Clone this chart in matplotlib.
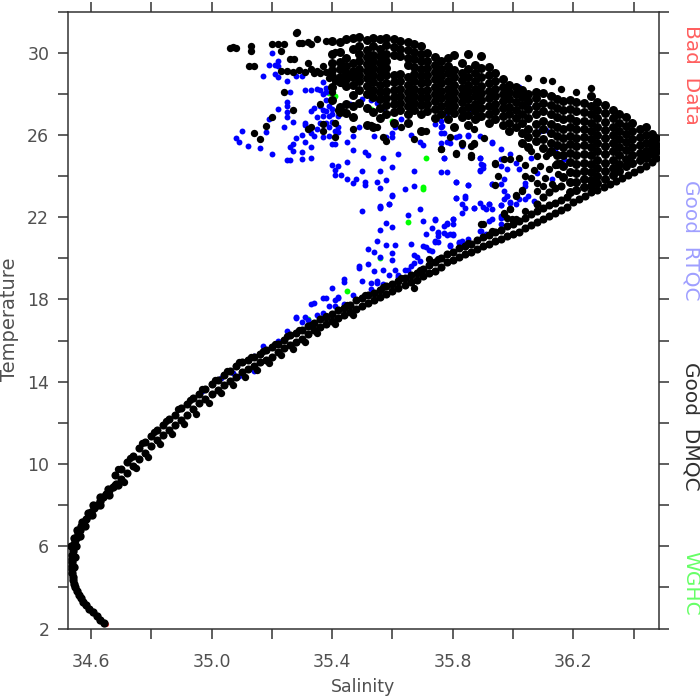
import matplotlib
matplotlib.use("Agg")
import matplotlib.pyplot as plt

x_ticks = [34.6, 34.8, 35.0, 35.2, 35.4, 35.6, 35.8, 36.0, 36.2, 36.4]
x_tick_labels = ["34.6", "", "35.0", "", "35.4", "", "35.8", "", "36.2", ""]
y_ticks = [2, 4, 6, 8, 10, 12, 14, 16, 18, 20, 22, 24, 26, 28, 30, 32]
y_tick_labels = ["2", "", "6", "", "10", "", "14", "", "18", "", "22", "", "26", "", "30", ""]

# deep tail of the TS curve
tail_sal = [34.642, 34.63, 34.62, 34.606, 34.595, 34.585, 34.575, 34.567, 34.56, 34.553, 34.547, 34.544, 34.541,
            34.539, 34.538, 34.537, 34.537, 34.537, 34.537, 34.538, 34.539, 34.541, 34.544, 34.548, 34.553, 34.558,
            34.563, 34.567, 34.575, 34.583, 34.592, 34.601, 34.61, 34.619, 34.63, 34.64, 34.65, 34.66, 34.672, 34.682,
            34.533, 34.543, 34.553, 34.57, 34.59, 34.607, 34.63, 34.655,
            34.545, 34.547, 34.552, 34.563, 34.579, 34.603, 34.63, 34.66, 34.69]
tail_temp = [2.25, 2.42, 2.6, 2.78, 2.95, 3.12, 3.3, 3.48, 3.65, 3.82, 4.0, 4.18, 4.35,
             4.52, 4.7, 4.88, 5.05, 5.22, 5.4, 5.58, 5.75, 5.92, 6.1, 6.28, 6.45, 6.62,
             6.8, 6.98, 7.15, 7.32, 7.5, 7.68, 7.85, 8.02, 8.2, 8.38, 8.55, 8.72, 8.9, 9.05,
             6.0, 6.4, 6.8, 7.2, 7.6, 8.0, 8.4, 8.8,
             5.0, 5.5, 6.0, 6.5, 7.0, 7.5, 8.0, 8.5, 9.0]

# main thermocline band, temperatures per salinity column
band_sal = [34.68, 34.70, 34.72, 34.74, 34.76, 34.78, 34.80, 34.82, 34.84, 34.86, 34.88, 34.90, 34.92, 34.94, 34.96,
            34.98, 35.00, 35.02, 35.04, 35.06, 35.08, 35.10, 35.12, 35.14, 35.16, 35.18, 35.20, 35.22, 35.24, 35.26,
            35.28, 35.30, 35.32, 35.34, 35.36, 35.38, 35.40, 35.42, 35.44, 35.46, 35.48, 35.50, 35.52, 35.54, 35.56,
            35.58, 35.60, 35.62, 35.64, 35.66, 35.68, 35.70, 35.72, 35.74, 35.76, 35.78, 35.80, 35.82, 35.84, 35.86,
            35.88, 35.90, 35.92, 35.94, 35.96, 35.98, 36.00, 36.02, 36.04, 36.06, 36.08, 36.10, 36.12, 36.14, 36.16,
            36.18, 36.20, 36.22, 36.24, 36.26, 36.28, 36.30, 36.32, 36.34, 36.36, 36.38, 36.40, 36.42, 36.44, 36.46,
            36.475]
band_temp = [[9.45, 9.0], [9.75, 9.25], [10.1, 9.55], [10.4, 9.9], [10.8, 10.25], [11.05, 10.55], [11.35, 10.85],
             [11.65, 11.15], [11.9, 11.4], [12.2, 11.65], [12.4, 11.9], [12.7, 12.15], [12.9, 12.4], [13.2, 12.65],
             [13.4, 12.95], [13.65, 13.15], [13.9, 13.4], [14.1, 13.6], [14.35, 13.85], [14.5, 14.05], [14.75, 14.25],
             [14.95, 14.45], [15.05, 14.6], [15.2, 14.75], [15.35, 14.95], [15.55, 15.05], [15.7, 15.2], [15.85, 15.45],
             [16.05, 15.65], [16.25, 15.8], [16.35, 15.95], [16.5, 16.1], [16.7, 16.3], [16.85, 16.5], [17.05, 16.65],
             [17.15, 16.8], [17.3, 16.95], [17.5, 17.1], [17.6, 17.25], [17.75, 17.4], [17.95, 17.55], [18.05, 17.7],
             [18.2, 17.85], [18.3, 17.95], [18.45, 18.1], [18.65, 18.25], [18.75, 18.4], [18.9, 18.55], [19.05, 18.7],
             [19.2, 18.85], [19.3, 18.95], [19.5, 19.15], [19.65, 19.3], [19.8, 19.4], [20.0, 19.6], [20.2, 19.8],
             [20.3, 19.9], [20.5, 20.05], [20.6, 20.2], [20.7, 20.3], [20.9, 20.45], [21.05, 20.6], [21.15, 20.7],
             [21.3, 20.85], [21.4, 20.95], [21.55, 21.1], [21.65, 21.2], [21.8, 21.3], [21.95, 21.45], [22.15, 21.6],
             [22.65, 22.3, 21.75], [23.0, 22.45, 21.9], [23.2, 22.6, 22.05], [23.4, 22.7, 22.2], [23.5, 22.85, 22.35],
             [23.0, 22.5], [22.75], [22.9], [23.05], [23.2], [23.3], [23.45], [23.6], [23.75], [23.9], [24.05], [24.2],
             [24.35], [24.5], [24.7], [24.9]]

# lumps on both edges of the band
edge_sal = [34.69, 34.71, 34.73, 34.75, 34.77, 34.79, 34.81, 34.83, 34.85, 34.87, 34.89, 34.91, 34.93, 34.95, 34.97,
            34.99, 35.01, 35.03, 35.05, 35.07, 35.09, 35.11, 35.13, 35.15, 35.17, 35.19, 35.21, 35.23, 35.25, 35.27,
            35.29, 35.31, 35.33, 35.35, 35.38, 35.41, 35.45, 35.47, 35.51, 35.57, 35.63, 35.69, 35.75, 35.85, 35.93,
            36.01]
edge_temp = [9.75, 9.1, 10.3, 9.8, 11.0, 10.35, 11.55, 10.95, 12.1, 11.45, 12.65, 11.95, 13.1, 12.45, 13.65,
             12.95, 14.1, 13.45, 14.5, 13.85, 14.95, 14.25, 15.2, 14.55, 15.5, 14.9, 15.85, 15.3, 16.2, 15.6,
             16.5, 15.95, 16.75, 16.35, 17.2, 16.8, 17.75, 17.25, 18.2, 18.6, 19.05, 19.45, 19.95, 20.75, 21.35,
             21.9]

# dense warm water cloud, temperatures per salinity column
cloud_sal = [35.40, 35.425, 35.445, 35.47, 35.49, 35.515, 35.535, 35.56, 35.58, 35.605, 35.625, 35.65, 35.67, 35.695,
             35.715, 35.74, 35.76, 35.785, 35.805, 35.83, 35.85, 35.875, 35.895, 35.92, 35.94, 35.965, 35.985, 36.01,
             36.03, 36.05, 36.075, 36.10, 36.125, 36.145, 36.165, 36.19, 36.21, 36.235, 36.26, 36.28, 36.305, 36.33,
             36.35, 36.375, 36.395, 36.42, 36.44, 36.46, 36.475]
cloud_temp = [
    [30.55, 29.95, 29.5, 29.15, 28.85, 28.35, 27.7],
    [30.5, 30.05, 29.55, 29.2, 28.8, 28.55, 27.35, 27.1],
    [30.65, 29.75, 29.35, 29.0, 28.7, 28.4, 27.5, 27.05],
    [30.7, 30.2, 29.5, 29.1, 28.8, 28.45, 27.95, 27.4, 26.85],
    [30.75, 30.3, 29.95, 29.6, 29.2, 28.9, 28.6, 28.2, 27.55],
    [30.6, 30.15, 29.8, 29.45, 29.1, 28.75, 28.4, 28.0, 27.3, 26.5],
    [30.7, 30.3, 29.9, 29.6, 29.25, 28.9, 28.55, 28.2, 27.85, 27.1, 26.4],
    [30.65, 30.2, 29.85, 29.5, 29.15, 28.8, 28.45, 28.1, 27.75, 27.3, 26.8],
    [30.7, 30.35, 29.95, 29.6, 29.25, 28.9, 28.5, 28.15, 27.8, 27.45, 27.0],
    [30.65, 30.25, 29.9, 28.9, 28.55, 28.2, 27.85, 27.5, 27.1, 26.6],
    [30.55, 30.2, 29.85, 28.95, 28.6, 28.25, 27.9, 27.55, 27.2],
    [30.5, 30.15, 29.75, 29.4, 28.8, 28.45, 28.1, 27.75, 27.4, 27.0, 26.6],
    [30.4, 30.05, 29.7, 29.3, 28.95, 28.6, 28.25, 27.9, 27.55, 27.2],
    [30.3, 29.95, 29.6, 29.2, 28.85, 28.5, 28.15, 27.8, 27.45, 27.0, 26.2],
    [30.0, 29.6, 29.25, 28.9, 28.55, 28.2, 27.85, 27.5, 27.15],
    [29.8, 29.4, 29.05, 28.7, 28.35, 28.0, 27.65, 27.25, 26.8],
    [29.6, 29.2, 28.85, 28.5, 28.15, 27.8, 27.4, 27.0],
    [29.75, 29.35, 29.0, 28.6, 28.25, 27.9, 27.55, 27.2, 26.75],
    [29.9, 29.15, 28.8, 28.45, 28.1, 27.75, 27.4, 27.05, 26.4],
    [29.5, 29.0, 28.65, 28.3, 27.95, 27.6, 27.2, 26.85],
    [29.95, 29.2, 28.8, 28.45, 28.1, 27.75, 27.35, 26.95, 26.5],
    [29.4, 29.0, 28.6, 28.25, 27.9, 27.5, 27.15, 26.75],
    [29.85, 29.25, 28.8, 28.4, 28.05, 27.7, 27.3, 26.9],
    [29.3, 28.9, 28.5, 28.15, 27.8, 27.4, 27.0, 26.6],
    [29.0, 28.6, 28.25, 27.9, 27.5, 27.15, 26.75],
    [28.7, 28.35, 28.0, 27.65, 27.3, 26.9, 26.5],
    [28.45, 28.1, 27.75, 27.35, 27.0, 26.6, 26.2],
    [28.35, 28.0, 27.6, 27.2, 26.8, 26.4],
    [28.2, 27.85, 27.45, 27.0, 26.6, 26.1, 25.6],
    [28.0, 27.65, 27.25, 26.8, 26.3, 25.9, 25.4],
    [28.1, 27.8, 27.4, 27.0, 26.55, 26.1, 25.7],
    [28.05, 27.55, 27.15, 26.7, 26.3, 25.8, 25.35],
    [27.9, 27.45, 27.0, 26.55, 26.1, 25.6, 25.2],
    [27.75, 27.3, 26.85, 26.4, 25.95, 25.5, 25.0, 24.6],
    [27.65, 27.2, 26.75, 26.3, 25.85, 25.4, 25.0, 24.5, 23.95],
    [27.7, 27.25, 26.8, 26.4, 25.95, 25.55, 25.1, 24.7, 24.2, 23.7, 23.2],
    [27.6, 27.15, 26.7, 26.3, 25.85, 25.45, 25.0, 24.6, 24.15, 23.7, 23.3],
    [27.55, 27.1, 26.7, 26.3, 25.9, 25.5, 25.05, 24.65, 24.25, 23.85, 23.45],
    [27.9, 27.4, 27.0, 26.6, 26.2, 25.8, 25.4, 25.0, 24.6, 24.2, 23.8, 23.5],
    [27.6, 27.2, 26.8, 26.4, 26.0, 25.6, 25.2, 24.8, 24.4, 24.0, 23.65],
    [27.45, 27.05, 26.65, 26.25, 25.85, 25.45, 25.05, 24.65, 24.25, 23.85],
    [27.2, 26.8, 26.4, 26.0, 25.6, 25.2, 24.8, 24.4, 24.05],
    [27.0, 26.6, 26.2, 25.8, 25.4, 25.0, 24.6, 24.25],
    [26.85, 26.45, 26.05, 25.65, 25.25, 24.85, 24.5],
    [26.6, 26.2, 25.8, 25.4, 25.0, 24.65],
    [26.3, 25.9, 25.5, 25.1, 24.8],
    [26.4, 26.0, 25.6, 25.2, 24.9],
    [26.05, 25.7, 25.35, 25.05],
    [25.85, 25.5, 25.2],
]

# scattered black points outside the dense parts
scatter_sal = [35.07, 35.06, 35.08, 35.13, 35.13, 35.125, 35.14, 35.2, 35.23, 35.24, 35.22, 35.26, 35.275, 35.28, 35.285,
               35.29, 35.32, 35.35, 35.38, 35.33, 35.3, 35.23, 35.25, 35.27, 35.29, 35.31, 35.33, 35.35, 35.37, 35.32,
               35.34, 35.36, 35.38, 35.39, 35.41, 35.43, 35.45, 35.24, 35.27, 35.2, 35.18, 35.14, 35.16, 35.33, 35.32,
               35.37, 35.37, 35.41, 35.4, 35.41, 35.36, 35.41, 35.47, 35.47, 35.44, 35.42, 35.55, 35.53, 35.57, 35.58,
               35.63, 35.67, 35.71, 35.76, 35.81, 35.86, 35.94, 35.95, 35.94, 35.79, 35.83, 35.87, 35.81, 35.86, 35.94,
               35.895, 36.01, 36.03, 36.04, 36.04, 36.02, 35.99, 35.97, 36.08, 36.08, 36.105, 36.12, 36.14, 36.155, 36.08,
               36.11, 36.06, 35.99, 35.97, 35.995, 36.04, 35.86, 35.87, 35.83, 35.76, 35.905, 35.87, 35.88, 35.67, 35.72,
               35.9, 36.01, 36.03, 35.99, 35.97, 35.98, 36.06, 36.09, 36.12, 36.1, 36.07, 36.13, 36.15,
               36.05, 36.10, 36.13, 36.16, 36.21, 36.26, 36.08, 36.1, 36.13, 36.26]
scatter_temp = [30.26, 30.24, 30.24, 30.3, 30.1, 29.33, 29.33, 30.4, 30.07, 30.4, 30.4, 29.7, 29.7, 30.94, 30.98,
                30.45, 30.5, 30.65, 30.55, 30.4, 30.45, 29.1, 29.1, 29.05, 29.15, 29.05, 29.2, 29.1, 29.35, 29.5,
                29.0, 29.0, 29.05, 28.75, 28.6, 28.5, 28.8, 28.07, 27.2, 26.85, 26.45, 26.1, 25.8, 26.4, 26.3,
                26.55, 26.2, 26.6, 28.07, 30.05, 27.5, 25.9, 26.3, 26.85, 27.1, 27.2, 26.4, 26.5, 25.9, 25.7,
                26.4, 25.8, 26.2, 25.3, 25.1, 25.0, 24.6, 24.0, 23.55, 25.9, 25.55, 25.55, 25.05, 24.94, 24.61,
                21.65, 23.03, 23.27, 24.0, 24.56, 24.89, 24.81, 24.81, 23.67, 23.27, 23.92, 24.32, 24.56, 24.65, 24.97,
                24.97, 25.21, 22.38, 22.13, 21.89, 22.29, 25.46, 25.62, 25.62, 25.33, 25.86, 26.27, 26.83, 18.58, 19.96,
                21.66, 23.06, 23.3, 22.4, 22.2, 21.98, 23.9, 24.5, 25.1, 23.5, 24.3, 23.6, 24.1,
                28.75, 28.65, 28.6, 28.25, 28.07, 28.3, 28.1, 28.05, 27.9, 27.9]

rtqc_sal = [35.2, 35.19, 35.21, 35.22, 35.22, 35.17, 35.21, 35.22, 35.25, 35.26, 35.25, 35.25, 35.25, 35.25, 35.22, 35.19,
            35.24, 35.27, 35.18, 35.1, 35.08, 35.09, 35.12, 35.16, 35.2, 35.25, 35.26, 35.26, 35.27, 35.27, 35.3,
            35.28, 35.3, 35.31, 35.33, 35.33, 35.3, 35.31, 35.33, 35.31, 35.33, 35.34, 35.37, 35.39, 35.35, 35.37,
            35.38, 35.4, 35.43, 35.4, 35.41, 35.45, 35.42, 35.42, 35.39, 35.4, 35.31, 35.33, 35.35, 35.36, 35.37,
            35.38, 35.37, 35.38, 35.28, 35.3, 35.47, 35.51, 35.52, 35.57, 35.62, 35.45, 35.4, 35.42, 35.41, 35.41,
            35.43, 35.45, 35.48, 35.47, 35.51, 35.51, 35.5, 35.56, 35.6, 35.67, 35.55, 35.56, 35.58, 35.6, 35.59,
            35.56, 35.64, 35.67, 35.76, 35.78, 35.81, 35.85, 35.81, 35.84, 35.87, 35.92, 35.9, 35.77, 35.89, 35.9,
            35.9, 35.89, 35.93, 35.6, 35.58, 35.54, 35.49, 35.47, 35.61, 35.6, 35.63, 35.66, 35.69, 35.7, 35.76,
            35.77, 35.78, 35.82, 35.85, 35.89, 35.93,
            35.6, 35.59, 35.56, 35.56, 35.5, 35.69, 35.65, 35.7, 35.74, 35.58, 35.6, 35.56, 35.73, 35.71, 35.77,
            35.78, 35.8, 35.8, 35.77, 35.75, 35.75, 35.78, 35.8, 35.74, 35.75, 35.55, 35.58, 35.61, 35.66, 35.52,
            35.54, 35.6, 35.56, 35.6, 35.7, 35.71, 35.72, 35.73, 35.67, 35.68, 35.69, 35.67, 35.66, 35.52, 35.49,
            35.49, 35.54, 35.57, 35.61, 35.64, 35.65, 35.59, 35.62, 35.62, 35.44, 35.44, 35.5, 35.53, 35.55, 35.55,
            35.4, 35.47, 35.38, 35.42, 35.41, 35.39, 35.41, 35.44, 35.34, 35.37, 35.35, 35.31, 35.28, 35.3, 35.32,
            35.53, 35.57, 35.81, 35.84, 35.83, 35.83, 35.87, 35.91, 35.92, 35.92, 35.93, 35.96, 35.96, 35.89, 35.83,
            35.82, 35.79, 35.98, 35.97, 35.99, 35.96, 36.01, 36.02,
            35.25, 35.28, 35.33, 35.37, 35.42, 35.17, 35.09, 35.14, 35.03, 34.97, 35.22, 35.07, 35.0, 35.09, 35.14,
            35.78, 35.76, 35.765, 35.74, 35.76, 35.76, 35.79, 35.81, 35.85, 35.83, 35.77, 35.86, 35.89, 35.895, 35.89,
            35.81, 35.85, 35.84, 35.89, 35.93, 35.93, 35.96, 35.96, 35.98, 35.96, 35.93, 35.97, 35.96, 35.97, 35.98,
            35.96, 35.99, 36.04, 36.05, 36.07, 36.04, 36.04, 36.02, 36.01, 36.06, 36.08, 35.99, 36.09, 36.11, 36.13,
            36.14, 36.17, 36.02, 36.05, 35.96, 35.895, 35.91, 35.79, 35.8, 35.75, 35.74, 35.78, 35.8, 35.74, 35.83,
            35.82, 35.85, 35.79,
            35.38, 35.39, 35.36, 35.34, 35.37, 35.4, 35.42, 35.38, 35.36, 35.35, 35.39, 35.41, 35.43, 35.46,
            35.5, 35.53, 35.55, 35.57]
rtqc_temp = [30.0, 29.4, 29.4, 29.35, 29.6, 28.85, 28.95, 28.8, 28.6, 28.07, 27.6, 27.4, 27.1, 26.85, 27.25, 26.75,
             26.4, 26.65, 26.15, 26.2, 25.85, 25.65, 25.45, 25.35, 25.05, 24.8, 24.8, 25.4, 25.55, 25.2, 25.15,
             25.85, 26.0, 25.65, 25.4, 24.9, 24.85, 26.6, 27.15, 26.5, 26.1, 25.95, 25.9, 25.95, 26.85, 26.9,
             27.15, 27.25, 27.35, 25.55, 25.55, 25.65, 26.4, 26.15, 26.9, 26.65, 28.2, 28.2, 28.25, 28.2, 28.55,
             28.3, 28.0, 27.7, 28.85, 28.85, 25.25, 25.15, 25.0, 24.9, 25.05, 24.7, 24.55, 24.5, 24.3, 24.05,
             24.05, 23.85, 23.85, 23.65, 23.7, 23.55, 24.25, 24.25, 24.45, 24.25, 23.7, 23.4, 23.8, 23.05, 22.65,
             22.5, 23.35, 23.5, 24.2, 24.2, 23.7, 23.55, 22.95, 22.95, 22.45, 22.65, 22.5, 24.9, 24.9, 24.55,
             24.4, 24.25, 23.6, 25.9, 25.9, 25.95, 26.4, 25.95, 26.4, 26.1, 26.75, 26.0, 25.65, 25.5, 26.4,
             26.1, 25.65, 25.95, 26.0, 25.95, 25.65,
             23.08, 22.66, 22.54, 22.46, 22.3, 22.41, 22.12, 21.79, 21.87, 21.7, 21.53, 21.37, 21.48, 21.17, 21.58,
             21.7, 21.9, 21.66, 21.25, 21.29, 21.06, 21.14, 21.14, 20.85, 20.77, 20.82, 20.64, 20.64, 20.69, 20.45,
             20.33, 20.25, 20.04, 19.93, 20.61, 20.53, 20.41, 20.37, 20.16, 20.04, 19.88, 19.77, 19.64, 19.72, 19.64,
             19.51, 19.4, 19.45, 19.45, 19.45, 19.43, 19.19, 19.19, 19.08, 19.0, 18.87, 18.91, 18.79, 18.91, 18.79,
             18.54, 18.22, 18.08, 18.11, 17.95, 17.7, 17.7, 17.79, 17.82, 17.35, 17.22, 17.17, 17.14, 16.9, 16.98,
             18.51, 18.75, 22.95, 23.03, 22.62, 22.22, 22.46, 22.41, 22.66, 21.82, 21.9, 21.98, 21.66, 21.33, 20.82,
             20.77, 20.58, 23.03, 22.87, 22.7, 22.59, 22.62, 22.87,
             16.46, 17.11, 17.79, 18.05, 18.08, 15.73, 14.92, 15.25, 14.2, 13.55, 15.98, 14.44, 13.87, 14.28, 14.5,
             27.0, 26.67, 26.43, 26.51, 26.1, 25.62, 25.62, 25.9, 25.94, 25.46, 24.89, 27.24, 24.89, 24.6, 24.27,
             23.7, 23.54, 22.46, 22.67, 22.38, 25.62, 25.3, 24.84, 24.32, 24.48, 23.59, 23.87, 23.59, 23.27, 23.03,
             22.59, 22.73, 22.86, 23.03, 22.78, 23.67, 23.51, 24.32, 24.65, 24.89, 24.16, 25.05, 26.18, 26.22, 23.84,
             25.3, 24.84, 28.34, 27.56, 22.05, 21.32, 21.16, 21.16, 21.16, 21.24, 21.89, 21.65, 21.89, 20.79, 20.79,
             20.76, 20.92, 20.67,
             28.1, 27.4, 27.4, 27.3, 27.2, 27.0, 26.9, 26.6, 26.6, 26.3, 26.4, 26.2, 27.2, 27.5,
             27.75, 27.7, 27.55, 27.3]

wghc_sal = [35.65, 35.45, 35.32, 35.56, 35.7, 35.71, 35.7, 35.6, 35.39, 35.41, 35.53]
wghc_temp = [21.75, 18.43, 17.06, 20.0, 23.35, 24.9, 23.45, 26.66, 28.05, 27.9, 27.25]

bad_sal = [34.65]
bad_temp = [2.2]

side_labels = ["Bad  Data", "Good  RTQC", "Good  DMQC", "WGHC"]
side_colors = ["#ff5f5f", "#9f9fff", "#303030", "#66ff66"]
side_y = [75, 240, 426, 583]

fig = plt.figure(figsize=(7, 7), dpi=100)
ax = fig.add_axes([68 / 700, (700 - 628.5) / 700, (659 - 68) / 700, (628.5 - 11.5) / 700])

# flatten the column tables into points
band_x, band_y = [], []
for s, temps in zip(band_sal, band_temp):
    band_x += [s] * len(temps)
    band_y += temps
cloud_x, cloud_y = [], []
for s, temps in zip(cloud_sal, cloud_temp):
    cloud_x += [s] * len(temps)
    cloud_y += temps

ax.scatter(bad_sal, bad_temp, s=14, c="#ff3030", linewidths=0, zorder=1)
ax.scatter(wghc_sal, wghc_temp, s=18, c="#00ff00", linewidths=0, zorder=2)
ax.scatter(rtqc_sal, rtqc_temp, s=18, c="#0000ff", linewidths=0, zorder=3)
ax.scatter(tail_sal, tail_temp, s=36, c="black", linewidths=0, zorder=4)
ax.scatter(band_x, band_y, s=34, c="black", linewidths=0, zorder=4)
ax.scatter(edge_sal, edge_temp, s=28, c="black", linewidths=0, zorder=4)
ax.scatter(cloud_x, cloud_y, s=42, c="black", linewidths=0, zorder=4)
ax.scatter(scatter_sal, scatter_temp, s=28, c="black", linewidths=0, zorder=4)

ax.set_xlim(34.524, 36.484)
ax.set_ylim(2, 32)
ax.set_xticks(x_ticks)
ax.set_xticklabels(x_tick_labels)
ax.set_yticks(y_ticks)
ax.set_yticklabels(y_tick_labels)
ax.tick_params(axis="both", which="major", direction="out", length=7.5, width=1.1, color="#333333",
               labelcolor="#505050", labelsize=12.5, top=True, right=True, pad=6)
ax.tick_params(axis="x", pad=10)
for spine in ax.spines.values():
    spine.set_linewidth(1.1)
    spine.set_color("#333333")

ax.set_xlabel("Salinity", fontsize=12.5, color="#505050")
ax.xaxis.set_label_coords(0.5, -50 / 617)
ax.set_ylabel("Temperature", fontsize=14, color="#505050")
ax.yaxis.set_label_coords(-49 / 591, 0.502)

for label, color, py in zip(side_labels, side_colors, side_y):
    fig.text(691 / 700, 1 - py / 700, label, color=color, rotation=-90, fontsize=14.5, ha="center", va="center")

plt.savefig("out.png", dpi=100)
